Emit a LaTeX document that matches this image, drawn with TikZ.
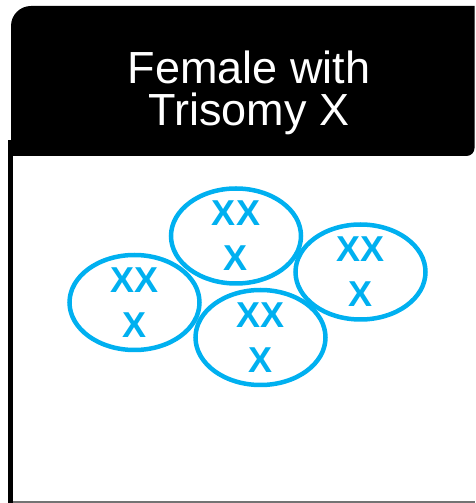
\documentclass[tikz,border=0pt]{standalone}
\usepackage{fontspec}
\setmainfont{Liberation Sans}
\usepackage{xcolor}
\usepackage{tikz}
\usetikzlibrary{positioning}
\definecolor{xblue}{RGB}{0,176,240}

\begin{document}
\begin{tikzpicture}[x=1pt, y=1pt,
  cell/.style={draw=xblue, line width=4.5pt},
  karyo/.style={xblue, font=\fontsize{36}{45}\selectfont\bfseries, align=center, inner sep=0pt}]
  \useasboundingbox (0,0) rectangle (475,503);
  % panel body
  \draw[black!55, line width=1.5pt] (10,1) -- (475,1);
  \draw[line width=5pt] (10.5,363) -- (10.5,0);
  % title bar
  \fill (11,347) -- (11,477) arc[start angle=180, end angle=90, radius=20pt] -- (474.5,497)
    -- (474.5,355) arc[start angle=0, end angle=-90, radius=8pt] -- cycle;
  \node[white, font=\fontsize{45}{42}\selectfont, align=center] (title) at (249,410) {Female with\\Trisomy X};
  % nuclei
  \draw[cell] (236,267) ellipse[x radius=65pt, y radius=47.5pt];
  \draw[cell] (134.5,200.5) ellipse[x radius=65pt, y radius=47.5pt];
  \draw[cell] (360.5,231) ellipse[x radius=65pt, y radius=47.5pt];
  \draw[cell] (260.5,165.5) ellipse[x radius=65pt, y radius=47.5pt];
  \node[karyo] (top) at (236,267) {XX\\X};
  \node[karyo] (left) at (134.5,200.5) {XX\\X};
  \node[karyo] (right) at (360.5,231) {XX\\X};
  \node[karyo] (bottom) at (260.5,165.5) {XX\\X};
\end{tikzpicture}
\end{document}
